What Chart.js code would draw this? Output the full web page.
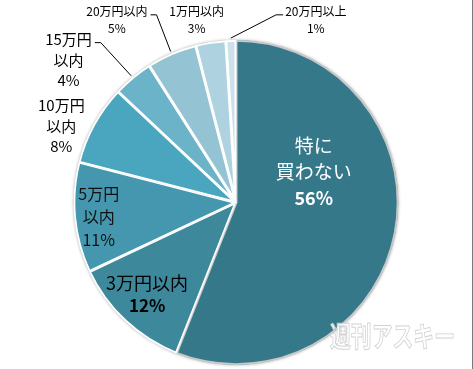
<!DOCTYPE html>
<html>
<head>
<meta charset="utf-8">
<script src="https://cdn.jsdelivr.net/npm/chart.js@4/dist/chart.umd.min.js"></script>
<style>
    body { margin: 0; background: #fff; }
    #grafico { display: block; }
</style>
</head>
<body>
<canvas id="grafico" width="473" height="369"></canvas>
<script>
// dati del grafico (in senso orario partendo dall'alto)
var categorie = ["特に買わない", "3万円以内", "5万円以内", "10万円以内", "15万円以内", "20万円以内", "1万円以内", "20万円以上"];
var percentuali = [56, 12, 11, 8, 4, 5, 3, 1];

// testo delle etichette, riga per riga
var righeEtichette = [
    ["特に", "買わない"],
    ["3万円以内"],
    ["5万円", "以内"],
    ["10万円", "以内"],
    ["15万円", "以内"],
    ["20万円以内"],
    ["1万円以内"],
    ["20万円以上"]
];

var colori = ["#35788a", "#3e889c", "#4497ae", "#4aa5bf", "#6ab3c9", "#94c3d4", "#aed2df", "#cce1e9"];

// posizione delle etichette rispetto al centro (in raggi), stile del testo
var layoutEtichette = [
    { dx: 0.478, dy: -0.186, size: 19, lh: 26, color: "#fff", pctBold: true, pctSize: 18 },
    { dx: -0.547, dy: 0.565, size: 18, lh: 22, color: "#000", pctBold: true, pctSize: 17 },
    { dx: -0.845, dy: 0.087, size: 16, lh: 23, color: "#111", pctBold: false, pctSize: 16 },
    { dx: -1.075, dy: -0.472, size: 15, lh: 20.5, color: "#000", pctBold: false, pctSize: 15 },
    { dx: -1.031, dy: -0.876, size: 15, lh: 20.5, color: "#000", pctBold: false, pctSize: 15, leader: "left" },
    { dx: -0.733, dy: -1.121, size: 12, lh: 17, color: "#000", pctBold: false, pctSize: 12, leader: "left" },
    { dx: -0.242, dy: -1.121, size: 12, lh: 17, color: "#000", pctBold: false, pctSize: 12 },
    { dx: 0.491, dy: -1.121, size: 12, lh: 17, color: "#000", pctBold: false, pctSize: 12, leader: "right" }
];

var FONT = "'Noto Sans CJK JP', 'Noto Sans', sans-serif";

// ombra sotto la torta
var ombraTorta = {
    id: "ombraTorta",
    beforeDatasetsDraw: function (chart) {
        var arc = chart.getDatasetMeta(0).data[0];
        var ctx = chart.ctx;
        ctx.save();
        ctx.shadowColor = "rgba(0,0,0,0.35)";
        ctx.shadowBlur = 3;
        ctx.beginPath();
        ctx.arc(arc.x, arc.y, arc.outerRadius, 0, Math.PI * 2);
        ctx.fillStyle = "#ddd";
        ctx.fill();
        ctx.restore();
    }
};

// etichette e linee guida
var etichette = {
    id: "etichette",
    afterDatasetsDraw: function (chart) {
        var ctx = chart.ctx;
        var archi = chart.getDatasetMeta(0).data;
        ctx.save();
        ctx.textAlign = "center";
        ctx.textBaseline = "middle";
        for (var i = 0; i < archi.length; i++) {
            var a = archi[i];
            var lay = layoutEtichette[i];
            var r = a.outerRadius;
            var righe = righeEtichette[i].slice();
            righe.push(percentuali[i] + "%");
            var cx = a.x + lay.dx * r;
            var cy = a.y + lay.dy * r;
            var y0 = cy - (righe.length - 1) * lay.lh / 2;

            for (var j = 0; j < righe.length; j++) {
                var ultima = j === righe.length - 1;
                var peso = ultima && lay.pctBold ? "bold " : "";
                var size = ultima ? lay.pctSize : lay.size;
                ctx.font = peso + size + "px " + FONT;
                ctx.fillStyle = lay.color;
                ctx.fillText(righe[j], cx, y0 + j * lay.lh);
            }

            if (lay.leader) {
                ctx.font = lay.size + "px " + FONT;
                var w = ctx.measureText(righe[0]).width;
                var ly = y0 + 3;
                var mid = (a.startAngle + a.endAngle) / 2;
                var ex = a.x + Math.cos(mid) * (r + 2);
                var ey = a.y + Math.sin(mid) * (r + 2);
                var sx, gx;
                if (lay.leader === "left") {
                    sx = cx + w / 2 + 3;
                    gx = sx + 6;
                } else {
                    sx = cx - w / 2 - 2;
                    gx = sx - 7;
                }
                ctx.beginPath();
                ctx.moveTo(sx, ly);
                ctx.lineTo(gx, ly);
                ctx.lineTo(ex, ey);
                ctx.strokeStyle = "#000";
                ctx.lineWidth = 1;
                ctx.stroke();
            }
        }
        ctx.restore();
    }
};

// scritta in filigrana e bordo destro
var filigrana = {
    id: "filigrana",
    afterDraw: function (chart) {
        var ctx = chart.ctx;
        ctx.save();
        ctx.font = "bold 27px " + FONT;
        ctx.textBaseline = "middle";
        var testo = "週刊アスキー";
        var w = ctx.measureText(testo).width;
        ctx.translate(330, 336);
        ctx.scale(125 / w, 1.05);
        ctx.fillStyle = "rgba(255,255,255,0.85)";
        ctx.fillText(testo, 0, 0);
        ctx.strokeStyle = "rgba(205,205,205,0.9)";
        ctx.lineWidth = 0.9;
        ctx.strokeText(testo, 0, 0);
        ctx.restore();

        ctx.fillStyle = "#7a7a7a";
        ctx.fillRect(472, 0, 1, chart.height);
    }
};

var ctx = document.getElementById("grafico");
var graficoTorta = new Chart(ctx, {
    type: "pie",
    data: {
        labels: categorie,
        datasets: [{
            data: percentuali,
            backgroundColor: colori,
            borderColor: ["#c8c8c8", "#fff", "#fff", "#fff", "#fff", "#fff", "#fff", "#fff"],
            borderWidth: 1.5,
            borderAlign: "inner",
            hoverOffset: 0
        }]
    },
    options: {
        responsive: false,
        animation: false,
        events: [],
        layout: { padding: { top: 40, bottom: 4, left: 0, right: 1 } },
        plugins: {
            legend: { display: false },
            tooltip: { enabled: false }
        }
    },
    plugins: [ombraTorta, etichette, filigrana]
});
</script>
</body>
</html>
